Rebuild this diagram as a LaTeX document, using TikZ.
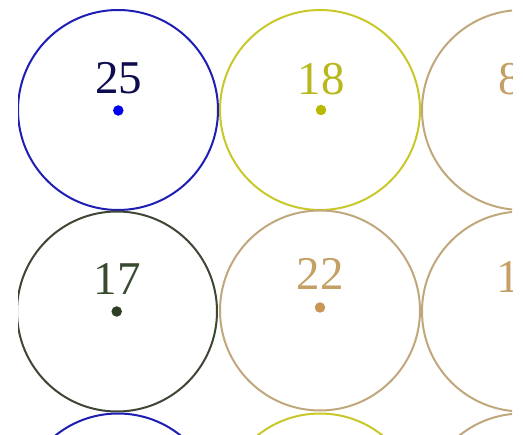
\documentclass[tikz,border=0pt]{standalone}
\usepackage{fontspec}
\setmainfont{Liberation Serif}
\definecolor{cblue}{HTML}{1E1EB4}
\definecolor{tblue}{HTML}{0C0C4E}
\definecolor{dblue}{HTML}{0000EE}
\definecolor{cyel}{HTML}{C8C82A}
\definecolor{tyel}{HTML}{B8B81E}
\definecolor{dyel}{HTML}{B8B800}
\definecolor{ctan}{HTML}{C0A87C}
\definecolor{ttan}{HTML}{C4A064}
\definecolor{dtan}{HTML}{C89656}
\definecolor{cgrn}{HTML}{3E4636}
\definecolor{tgrn}{HTML}{3A4A30}
\definecolor{dgrn}{HTML}{2E3E22}
\tikzset{
  ring/.style={circle, draw, line width=2pt, minimum size=200pt, inner sep=0pt},
  num/.style={anchor=base, inner sep=0pt, font=\fontsize{47}{47}\selectfont},
  numw/.style={anchor=base west, inner sep=0pt, font=\fontsize{47}{47}\selectfont},
  pin/.style={circle, inner sep=0pt, minimum size=10.5pt}
}
\begin{document}
\begin{tikzpicture}[x=1pt,y=-1pt]
\useasboundingbox (0,0) rectangle (523,435);
\begin{scope}
\clip (18,0) rectangle (512,435);
% row 1
\node[ring, cblue] (r1c1) at (118,110) {};
\node[ring, cyel] (r1c2) at (320,110) {};
\node[ring, ctan] (r1c3) at (522,110) {};
\node[num, tblue] (t25) at (118.5,94) {25};
\node[pin, fill=dblue] (d25) at (118.3,110.5) {};
\node[num, tyel] (t18) at (321,95) {18};
\node[pin, fill=dyel] (d18) at (321,110) {};
\node[numw, ttan] (t8) at (498.5,95) {8};
% row 2
\node[ring, cgrn] (r2c1) at (117,311.5) {};
\node[ring, ctan] (r2c2) at (320,310.5) {};
\node[ring, ctan] (r2c3) at (522,311.5) {};
\node[num, tgrn] (t17) at (117,294.5) {17};
\node[pin, fill=dgrn] (d17) at (116.7,311.5) {};
\node[num, ttan] (t22) at (320,289.5) {22};
\node[pin, fill=dtan] (d22) at (320,307.5) {};
\node[numw, ttan] (t1) at (496,293) {1};
% row 3
\node[ring, cblue] (r3c1) at (118,513.5) {};
\node[ring, cyel] (r3c2) at (320,513.5) {};
\node[ring, ctan] (r3c3) at (522,513.5) {};
\end{scope}
\end{tikzpicture}
\end{document}
